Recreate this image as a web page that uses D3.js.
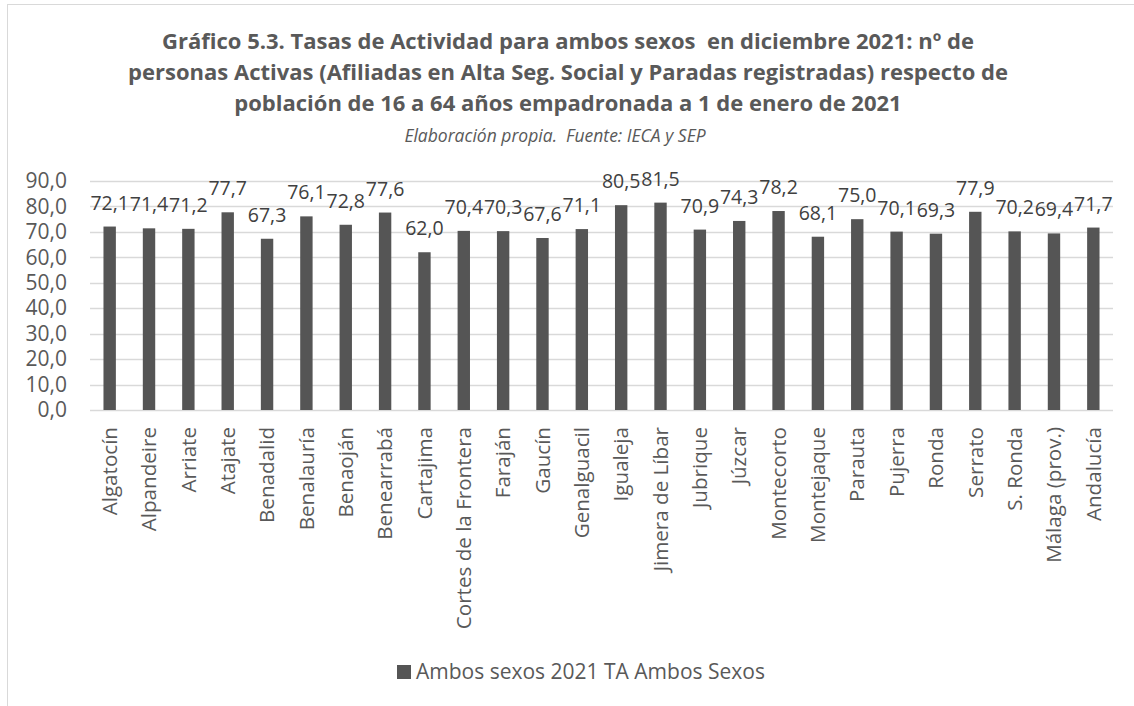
<!DOCTYPE html>
<html><head><meta charset="utf-8">
<script src="https://cdn.jsdelivr.net/npm/d3@7"></script>
<style>
html,body{margin:0;padding:0;background:#fff;}
svg{display:block;font-family:"Open Sans",sans-serif;}
</style></head>
<body><svg id="c" width="1134" height="706"></svg>
<script>
const categories = ["Algatocín","Alpandeire","Arriate","Atajate","Benadalid","Benalauría","Benaoján","Benearrabá","Cartajima","Cortes de la Frontera","Faraján","Gaucín","Genalguacil","Igualeja","Jimera de Líbar","Jubrique","Júzcar","Montecorto","Montejaque","Parauta","Pujerra","Ronda","Serrato","S. Ronda","Málaga (prov.)","Andalucía"];
const values = [72.1,71.4,71.2,77.7,67.3,76.1,72.8,77.6,62.0,70.4,70.3,67.6,71.1,80.5,81.5,70.9,74.3,78.2,68.1,75.0,70.1,69.3,77.9,70.2,69.4,71.7];
const yTicks = [0,10,20,30,40,50,60,70,80,90];
const titleLines = ["Gráfico 5.3. Tasas de Actividad para ambos sexos  en diciembre 2021: nº de","personas Activas (Afiliadas en Alta Seg. Social y Paradas registradas) respecto de","población de 16 a 64 años empadronada a 1 de enero de 2021"];
const subtitle = "Elaboración propia.  Fuente: IECA y SEP";
const seriesName = "Ambos sexos 2021 TA Ambos Sexos";

const svg = d3.select("#c");
const fmt = v => d3.format(".1f")(v).replace(".", ",");
const textCol = "#595959";

// outer border
svg.append("rect").attr("x",7.5).attr("y",4.5).attr("width",1200).attr("height",800)
  .attr("fill","none").attr("stroke","#d9d9d9").attr("stroke-width",1);

// title
const cx = 568;
svg.append("g").selectAll("text").data(titleLines).join("text")
  .attr("x",cx).attr("y",(d,i)=>49+i*31)
  .attr("text-anchor","middle").attr("font-weight","bold").attr("font-size",22)
  .attr("fill",textCol).style("white-space","pre").text(d=>d);
svg.append("text").attr("x",cx-13).attr("y",142).attr("text-anchor","middle")
  .attr("font-style","italic").attr("font-size",17.5).attr("fill",textCol)
  .style("white-space","pre").text(subtitle);

const x = d3.scaleBand().domain(categories).range([90,1113]).paddingInner(0.685).paddingOuter(0.3425);
const y = d3.scaleLinear().domain([0,90]).range([410,181]);

// gridlines
svg.append("g").selectAll("line").data(yTicks).join("line")
  .attr("x1",90).attr("x2",1113).attr("y1",d=>Math.round(y(d))+0.5).attr("y2",d=>Math.round(y(d))+0.5)
  .attr("stroke","#d9d9d9").attr("stroke-width",1.5);

// y axis
const ya = svg.append("g").attr("transform","translate(67,0)")
  .call(d3.axisLeft(y).tickValues(yTicks).tickFormat(fmt).tickSize(0).tickPadding(0));
ya.select(".domain").remove();
ya.selectAll("text").attr("font-size",21).attr("fill",textCol).attr("font-family","Open Sans");

// bars
svg.append("g").selectAll("rect").data(values).join("rect")
  .attr("x",(d,i)=>x(categories[i])).attr("width",x.bandwidth())
  .attr("y",d=>y(d)).attr("height",d=>y(0)-y(d)).attr("fill","#555555");

// data labels
svg.append("g").selectAll("text").data(values).join("text")
  .attr("x",(d,i)=>x(categories[i])+x.bandwidth()/2).attr("y",d=>y(d)-17)
  .attr("text-anchor","middle").attr("font-size",19.5).attr("fill","#404040").text(fmt);

// x axis
const xa = svg.append("g").attr("transform","translate(0,410)")
  .call(d3.axisBottom(x).tickSize(0).tickPadding(0));
xa.select(".domain").remove();
xa.selectAll("text").attr("font-size",20.6).attr("fill",textCol).attr("font-family","Open Sans")
  .attr("text-anchor","end").attr("transform","rotate(-90)")
  .attr("x",-17).attr("y",0).attr("dy","0.35em");

// legend
svg.append("rect").attr("x",397).attr("y",665).attr("width",14).attr("height",14).attr("fill","#555555");
svg.append("text").attr("x",416).attr("y",679).attr("font-size",21).attr("fill",textCol).text(seriesName);
</script></body></html>
